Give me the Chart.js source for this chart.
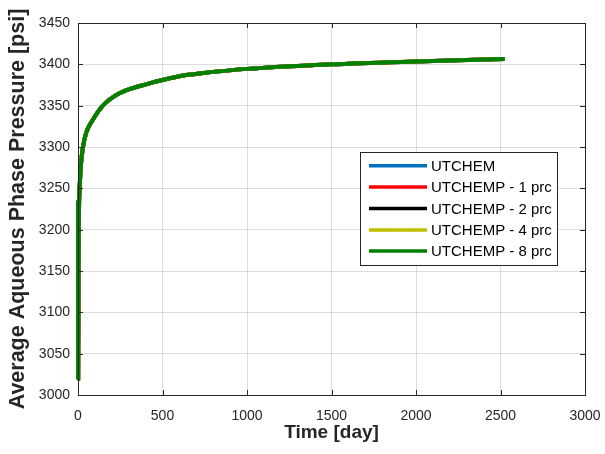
<!DOCTYPE html>
<html>
<head>
<meta charset="utf-8">
<script src="https://cdn.jsdelivr.net/npm/chart.js@4/dist/chart.umd.min.js"></script>
<style>
html,body{margin:0;padding:0;background:#fff;}
#wrap{width:605px;height:454px;position:relative;}
</style>
</head>
<body>
<div id="wrap"><canvas id="c" width="605" height="454"></canvas></div>
<script>
// Time [day]
const days = [0, 1, 3, 6, 10, 18, 28, 48, 88, 147, 245, 423, 500, 640, 718, 1000, 1500, 2000, 2525];
// Average aqueous phase pressure [psi] for each run (curves overlap)
const utchem    = [3235, 3020, 3150, 3225, 3252, 3280, 3298, 3317, 3333, 3350, 3365, 3377, 3381, 3387, 3389, 3394.5, 3400, 3403.5, 3406.5];
const utchemp1  = [3235, 3020, 3150, 3225, 3252, 3280, 3298, 3317, 3333, 3350, 3365, 3377, 3381, 3387, 3389, 3394.5, 3400, 3403.5, 3406.5];
const utchemp2  = [3235, 3020, 3150, 3225, 3252, 3280, 3298, 3317, 3333, 3350, 3365, 3377, 3381, 3387, 3389, 3394.5, 3400, 3403.5, 3406.5];
const utchemp4  = [3235, 3020, 3150, 3225, 3252, 3280, 3298, 3317, 3333, 3350, 3365, 3377, 3381, 3387, 3389, 3394.5, 3400, 3403.5, 3406.5];
const utchemp8  = [3235, 3020, 3150, 3225, 3252, 3280, 3298, 3317, 3333, 3350, 3365, 3377, 3381, 3387, 3389, 3394.5, 3400, 3403.5, 3406.5];
const seriesNames = ['UTCHEM', 'UTCHEMP - 1 prc', 'UTCHEMP - 2 prc', 'UTCHEMP - 4 prc', 'UTCHEMP - 8 prc'];
const seriesColors = ['#0072BD', '#FF0000', '#000000', '#BFBF00', '#008000'];
const xTicks = [0, 500, 1000, 1500, 2000, 2500, 3000];
const yTicks = [3000, 3050, 3100, 3150, 3200, 3250, 3300, 3350, 3400, 3450];

const allSeries = [utchem, utchemp1, utchemp2, utchemp4, utchemp8];
const TXT = '#262626';
const FONT = '"Liberation Sans", Arial, Helvetica, sans-serif';

const datasets = allSeries.map((vals, i) => ({
  label: seriesNames[i],
  data: days.map((d, j) => ({x: d, y: vals[j]})),
  borderColor: seriesColors[i],
  backgroundColor: seriesColors[i],
  borderWidth: 4,
  pointRadius: 0,
  cubicInterpolationMode: 'monotone',
  fill: false,
  clip: 6,
  order: allSeries.length - i
}));

const boxPlugin = {
  id: 'boxPlugin',
  afterDatasetsDraw(chart) {
    const ctx = chart.ctx;
    const a = chart.chartArea;
    const xs = chart.scales.x, ys = chart.scales.y;
    ctx.save();
    ctx.strokeStyle = TXT;
    ctx.lineWidth = 1;
    ctx.beginPath();
    ctx.rect(Math.round(a.left) + 0.5, Math.round(a.top) + 0.5, Math.round(a.right - a.left), Math.round(a.bottom - a.top));
    ctx.stroke();
    const tl = 5;
    ctx.beginPath();
    xTicks.forEach(v => {
      const px = Math.round(xs.getPixelForValue(v)) + 0.5;
      ctx.moveTo(px, a.bottom); ctx.lineTo(px, a.bottom - tl);
      ctx.moveTo(px, a.top); ctx.lineTo(px, a.top + tl);
    });
    yTicks.forEach(v => {
      const py = Math.round(ys.getPixelForValue(v)) + 0.5;
      ctx.moveTo(a.left, py); ctx.lineTo(a.left + tl, py);
      ctx.moveTo(a.right, py); ctx.lineTo(a.right - tl, py);
    });
    ctx.stroke();

    // legend box
    const L = 360.5, T = 152.5, R = 557.5, B = 265.5;
    ctx.fillStyle = '#fff';
    ctx.fillRect(L, T, R - L, B - T);
    ctx.strokeStyle = TXT;
    ctx.strokeRect(L, T, R - L, B - T);
    const rowY = [165.7, 187, 208.5, 230, 251];
    ctx.font = '15px ' + FONT;
    ctx.textBaseline = 'middle';
    ctx.textAlign = 'left';
    chart.data.datasets.forEach((ds, i) => {
      const y = rowY[i];
      ctx.strokeStyle = ds.borderColor;
      ctx.lineWidth = 3.5;
      ctx.beginPath();
      ctx.moveTo(369, y); ctx.lineTo(427, y);
      ctx.stroke();
      ctx.fillStyle = '#000';
      ctx.fillText(ds.label, 431, y + 1);
    });
    ctx.restore();
  }
};

new Chart(document.getElementById('c'), {
  type: 'line',
  data: { datasets },
  options: {
    responsive: false,
    animation: false,
    devicePixelRatio: 1,
    layout: { padding: { top: 23, right: 20, left: 0, bottom: 0 } },
    plugins: {
      legend: { display: false },
      tooltip: { enabled: false }
    },
    scales: {
      x: {
        type: 'linear',
        min: 0, max: 3000,
        afterBuildTicks: s => { s.ticks = xTicks.map(v => ({value: v})); },
        afterFit: s => { s.height = 59; s.paddingLeft = 0; s.paddingRight = 0; },
        grid: { color: 'rgba(0,0,0,0.13)', drawTicks: false, lineWidth: 1 },
        border: { display: true, color: TXT, width: 1 },
        ticks: { color: TXT, font: { family: FONT, size: 14 }, padding: 13, maxRotation: 0, callback: v => String(v) },
        title: { display: true, text: 'Time [day]', color: TXT, font: { family: FONT, size: 19, weight: 'bold' }, padding: { top: 0, bottom: 10 } }
      },
      y: {
        type: 'linear',
        min: 3000, max: 3450,
        afterBuildTicks: s => { s.ticks = yTicks.map(v => ({value: v})); },
        afterFit: s => { s.width = 78; s.paddingTop = 0; s.paddingBottom = 0; },
        grid: { color: 'rgba(0,0,0,0.13)', drawTicks: false, lineWidth: 1 },
        border: { display: true, color: TXT, width: 1 },
        ticks: { color: TXT, font: { family: FONT, size: 14 }, padding: 8, callback: v => String(v) },
        title: { display: true, text: 'Average Aqueous Phase Pressure [psi]', color: TXT, font: { family: FONT, size: 21.5, weight: 'bold' }, padding: { top: 5, bottom: 0 } }
      }
    }
  },
  plugins: [boxPlugin]
});
</script>
</body>
</html>
